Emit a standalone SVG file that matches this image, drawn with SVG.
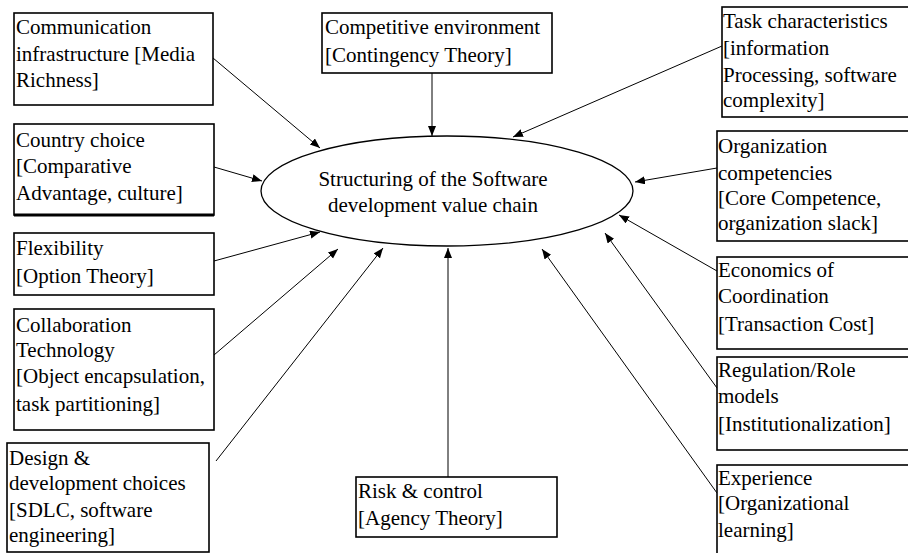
<svg xmlns="http://www.w3.org/2000/svg" width="908" height="553" viewBox="0 0 908 553">
<style>
.box{fill:#fff;stroke:#000;stroke-width:1.6}
.t{font-size:21px;fill:#000}
.c{stroke:#000;stroke-width:1;fill:none;marker-end:url(#ah)}
</style>
<defs>
<marker id="ah" markerUnits="userSpaceOnUse" markerWidth="12" markerHeight="10" refX="10" refY="4" orient="auto">
<path d="M0,0 L10,4 L0,8 Z" fill="#000"/>
</marker>
</defs>
<rect width="908" height="553" fill="#fff"/>
<g font-family="Liberation Serif, Times New Roman, DejaVu Serif, serif">
<g id="center">
<ellipse cx="447" cy="191" rx="186" ry="55" fill="#fff" stroke="#000" stroke-width="1.3"/>
<text class="t" x="433" y="186" text-anchor="middle">Structuring of the Software</text>
<text class="t" x="433" y="212" text-anchor="middle">development value chain</text>
</g>
<g id="connectors">
<line class="c" x1="213" y1="58" x2="320" y2="148"/>
<line class="c" x1="214" y1="167" x2="262" y2="181"/>
<line class="c" x1="432" y1="73" x2="432" y2="136"/>
<line class="c" x1="722" y1="46" x2="513" y2="137"/>
<line class="c" x1="717" y1="168" x2="635" y2="182"/>
<line class="c" x1="717" y1="271" x2="619" y2="215"/>
<line class="c" x1="717" y1="388" x2="605" y2="233"/>
<line class="c" x1="717" y1="493" x2="542" y2="249"/>
<line class="c" x1="448" y1="477" x2="448" y2="248"/>
<line class="c" x1="216" y1="461" x2="383" y2="248"/>
<line class="c" x1="214" y1="355" x2="338" y2="249"/>
<line class="c" x1="214" y1="261" x2="320" y2="232"/>
</g>
<g id="n-communication">
<rect class="box" x="14" y="13" width="199" height="92"/>
<text class="t" x="16" y="34">Communication</text>
<text class="t" x="16" y="61">infrastructure [Media</text>
<text class="t" x="16" y="87">Richness]</text>
</g>
<g id="n-country">
<rect class="box" x="14" y="124" width="200" height="91"/>
<line x1="14" y1="215" x2="214" y2="215" stroke="#000" stroke-width="3"/>
<text class="t" x="16" y="147">Country choice</text>
<text class="t" x="16" y="173">[Comparative</text>
<text class="t" x="16" y="200">Advantage, culture]</text>
</g>
<g id="n-competitive">
<rect class="box" x="322" y="13" width="230" height="60"/>
<text class="t" x="325" y="34">Competitive environment</text>
<text class="t" x="325" y="62">[Contingency Theory]</text>
</g>
<g id="n-task">
<rect class="box" x="722" y="7" width="190" height="110"/>
<text class="t" x="723" y="28">Task characteristics</text>
<text class="t" x="723" y="55">[information</text>
<text class="t" x="723" y="82">Processing, software</text>
<text class="t" x="723" y="107">complexity]</text>
</g>
<g id="n-org">
<rect class="box" x="717" y="131" width="195" height="110"/>
<text class="t" x="718" y="153">Organization</text>
<text class="t" x="718" y="180">competencies</text>
<text class="t" x="718" y="205">[Core Competence,</text>
<text class="t" x="718" y="230">organization slack]</text>
</g>
<g id="n-economics">
<rect class="box" x="717" y="257" width="195" height="92"/>
<text class="t" x="718" y="277">Economics of</text>
<text class="t" x="718" y="303">Coordination</text>
<text class="t" x="718" y="331">[Transaction Cost]</text>
</g>
<g id="n-regulation">
<rect class="box" x="717" y="357" width="195" height="93"/>
<text class="t" x="718" y="377">Regulation/Role</text>
<text class="t" x="718" y="403">models</text>
<text class="t" x="718" y="431">[Institutionalization]</text>
</g>
<g id="n-experience">
<rect class="box" x="717" y="465" width="195" height="100"/>
<text class="t" x="718" y="485">Experience</text>
<text class="t" x="718" y="510">[Organizational</text>
<text class="t" x="718" y="537">learning]</text>
</g>
<g id="n-flexibility">
<rect class="box" x="14" y="233" width="200" height="62"/>
<text class="t" x="16" y="255">Flexibility</text>
<text class="t" x="16" y="283">[Option Theory]</text>
</g>
<g id="n-collaboration">
<rect class="box" x="14" y="309" width="200" height="121"/>
<text class="t" x="16" y="332">Collaboration</text>
<text class="t" x="16" y="357">Technology</text>
<text class="t" x="16" y="383">[Object encapsulation,</text>
<text class="t" x="16" y="411">task partitioning]</text>
</g>
<g id="n-design">
<rect class="box" x="7" y="443" width="202" height="109"/>
<text class="t" x="9" y="465">Design &amp;</text>
<text class="t" x="9" y="490">development choices</text>
<text class="t" x="9" y="517">[SDLC, software</text>
<text class="t" x="9" y="542">engineering]</text>
</g>
<g id="n-risk">
<rect class="box" x="356" y="477" width="201" height="60"/>
<text class="t" x="358" y="498">Risk &amp; control</text>
<text class="t" x="358" y="525">[Agency Theory]</text>
</g>
</g>
</svg>
